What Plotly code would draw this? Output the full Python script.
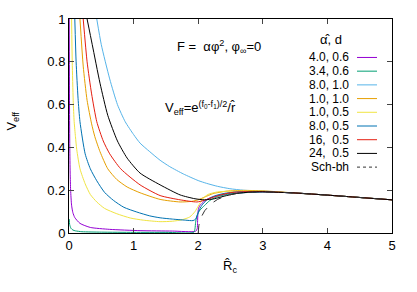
import plotly.graph_objects as go

# ---- data ----
labels = ["4.0, 0.6", "3.4, 0.6", "8.0, 1.0", "1.0, 1.0", "1.0, 0.5",
          "8.0, 0.5", "16,\u00a0 0.5", "24,\u00a0 0.5", "Sch-bh"]
colors = ["#9400d3", "#009e73", "#56b4e9", "#e69f00", "#f0e442",
          "#0072b2", "#e51e10", "#000000", "#333333"]

tail_x = [3.5, 4.0, 4.5, 5.0]
tail_y = [0.187, 0.177, 0.166, 0.155]

purple_x = [0.004, 0.008, 0.012, 0.018, 0.025, 0.04, 0.06, 0.09, 0.17, 0.33, 0.63, 1.1, 1.6, 1.96,
            1.985, 1.99, 1.995, 2.005, 2.03, 2.08, 2.15, 2.3, 2.5, 2.8, 3.0]
purple_y = [1.0, 0.6, 0.4, 0.28, 0.2, 0.13, 0.095, 0.072, 0.045, 0.026, 0.017, 0.011, 0.009, 0.008,
            0.02, 0.05, 0.09, 0.115, 0.13, 0.145, 0.16, 0.175, 0.185, 0.19, 0.1925]

green_x = [0.003, 0.01, 0.03, 0.06, 0.1, 0.2, 0.5, 1.0, 1.5, 1.93, 1.95, 1.96, 1.975, 2.0, 2.03,
           2.1, 2.18, 2.3, 2.5, 2.8, 3.0]
green_y = [0.065, 0.04, 0.022, 0.014, 0.01, 0.006, 0.004, 0.003, 0.003, 0.003, 0.02, 0.05, 0.075,
           0.095, 0.108, 0.129, 0.152, 0.17, 0.183, 0.19, 0.1925]

lblue_x = [0.43, 0.5, 0.63, 0.75, 0.87, 1.0, 1.1, 1.25, 1.41, 1.56, 1.77, 2.0, 2.13, 2.3, 2.49,
           2.7, 3.0]
lblue_y = [1.0, 0.88, 0.72, 0.6, 0.52, 0.46, 0.42, 0.38, 0.34, 0.31, 0.276, 0.245, 0.232, 0.218,
           0.207, 0.2, 0.196]

orange_x = [0.17, 0.22, 0.28, 0.35, 0.40, 0.48, 0.6, 0.74, 0.9, 1.1, 1.41, 1.72, 1.9, 2.0, 2.1,
            2.23, 2.45, 2.7, 3.0]
orange_y = [1.0, 0.78, 0.62, 0.51, 0.45, 0.38, 0.3, 0.25, 0.215, 0.188, 0.157, 0.145, 0.148, 0.155,
            0.168, 0.184, 0.196, 0.199, 0.197]

yellow_x = [0.04, 0.05, 0.065, 0.08, 0.1, 0.12, 0.17, 0.25, 0.33, 0.43, 0.55, 0.74, 0.95, 1.15,
            1.41, 1.6, 1.75, 1.87, 1.95, 2.0, 2.07, 2.15, 2.3, 2.6, 3.0]
yellow_y = [1.0, 0.8, 0.62, 0.52, 0.45, 0.39, 0.3, 0.23, 0.18, 0.145, 0.115, 0.09, 0.07, 0.06,
            0.053, 0.055, 0.062, 0.075, 0.1, 0.125, 0.16, 0.18, 0.192, 0.196, 0.195]

blue_x = [0.09, 0.11, 0.14, 0.17, 0.25, 0.33, 0.43, 0.55, 0.69, 0.85, 1.05, 1.25, 1.41, 1.6, 1.8,
          1.92, 1.96, 1.99, 2.02, 2.07, 2.15, 2.25, 2.4, 2.6, 3.0]
blue_y = [1.0, 0.8, 0.63, 0.52, 0.37, 0.3, 0.244, 0.19, 0.152, 0.12, 0.098, 0.08, 0.071, 0.065,
          0.06, 0.058, 0.065, 0.085, 0.11, 0.135, 0.158, 0.173, 0.185, 0.192, 0.1925]

red_x = [0.22, 0.28, 0.35, 0.43, 0.53, 0.63, 0.8, 1.1, 1.41, 1.72, 1.98, 2.1, 2.23, 2.4, 2.54,
         2.8, 3.0]
red_y = [1.0, 0.8, 0.65, 0.52, 0.43, 0.37, 0.3, 0.225, 0.175, 0.155, 0.145, 0.153, 0.167, 0.182,
         0.19, 0.194, 0.1935]

black_x = [0.28, 0.36, 0.48, 0.6, 0.75, 0.9, 1.1, 1.41, 1.72, 1.95, 2.1, 2.25, 2.4, 2.6, 2.8, 3.0]
black_y = [1.0, 0.88, 0.70, 0.55, 0.43, 0.35, 0.28, 0.225, 0.178, 0.16, 0.155, 0.16, 0.172, 0.185,
           0.191, 0.1925]

sch_x = [2.0, 2.01, 2.03, 2.05, 2.1, 2.15, 2.2, 2.3, 2.4, 2.5, 2.6, 2.75, 3.0, 3.25, 3.5, 3.75,
         4.0, 4.5, 5.0]
sch_y = [0.0, 0.035, 0.060, 0.076, 0.104, 0.123, 0.137, 0.157, 0.170, 0.179, 0.185, 0.190, 0.1925,
         0.191, 0.187, 0.182, 0.177, 0.166, 0.155]

x_ticks = [0, 1, 2, 3, 4, 5]
y_ticks = [0, 0.2, 0.4, 0.6, 0.8, 1]
y_tick_text = ["0", "0.2", "0.4", "0.6", "0.8", "1"]

series = [
    (purple_x, purple_y),
    (green_x, green_y),
    (lblue_x, lblue_y),
    (orange_x, orange_y),
    (yellow_x, yellow_y),
    (blue_x, blue_y),
    (red_x, red_y),
    (black_x, black_y),
]

FONT = "Liberation Sans, Arial, sans-serif"
FS = 13
LFS = 12
fig = go.Figure()
for i, (xs, ys) in enumerate(series):
    fig.add_trace(go.Scatter(
        x=list(xs) + tail_x, y=list(ys) + tail_y, mode="lines",
        line=dict(color=colors[i], width=1, shape="spline", smoothing=0.6),
        name=labels[i], showlegend=False, cliponaxis=True))
fig.add_trace(go.Scatter(x=sch_x, y=sch_y, mode="lines",
                         line=dict(color=colors[8], width=1, dash="dash"),
                         name=labels[8], showlegend=False))

W, H = 417, 292
L, R, T, B = 69, 25, 16, 59
pw, ph = W - L - R, H - T - B


def px(x):
    return (x - L) / pw


def py(y):
    return (H - B - y) / ph


def ann(x, y, text, xanchor="center", size=FS, **kw):
    d = dict(x=px(x), y=py(y), xref="paper", yref="paper", text=text,
             showarrow=False, xanchor=xanchor, yanchor="middle", borderpad=0,
             font=dict(family=FONT, size=size, color="black"))
    d.update(kw)
    return d


annotations = []
shapes = []
# manual legend
annotations.append(ann(331, 37, "\u03b1\u0302, d"))
for i, lab in enumerate(labels):
    yy = 55 + i * 13.9
    annotations.append(ann(350, yy, lab, xanchor="right", size=LFS))
    shapes.append(dict(type="line", xref="paper", yref="paper",
                       x0=px(357), x1=px(377), y0=py(yy), y1=py(yy),
                       line=dict(color=colors[i], width=1,
                                 dash="dot" if i == 8 else "solid")))

annotations.append(ann(176, 44, "F =  \u03b1\u03c6<sup>2</sup>, \u03c6<sub>\u221e</sub>=0",
                       xanchor="left"))
annotations.append(ann(164, 106,
                       "V<sub>eff</sub>=e<sup>(f<sub>0</sub>-f<sub>1</sub>)/2</sup>/r\u0302",
                       xanchor="left"))
annotations.append(ann(13, 120, "V<sub>eff</sub>", textangle=-90))
annotations.append(ann(230, 267, "R\u0302<sub>c</sub>"))

fig.update_layout(
    width=W, height=H, margin=dict(l=L, r=R, t=T, b=B),
    paper_bgcolor="white", plot_bgcolor="white",
    font=dict(family=FONT, size=FS, color="black"),
    annotations=annotations, shapes=shapes, showlegend=False,
    xaxis=dict(range=[0, 5], tickvals=x_ticks, ticks="inside", ticklen=5,
               showline=True, linecolor="black", linewidth=1, mirror="ticks",
               showgrid=False, zeroline=False, tickfont=dict(size=FS)),
    yaxis=dict(range=[0, 1], tickvals=y_ticks, ticktext=y_tick_text, ticks="inside",
               ticklen=5, showline=True, linecolor="black", linewidth=1, mirror="ticks",
               showgrid=False, zeroline=False, tickfont=dict(size=FS)),
)
fig.write_html("out.html", config={"displayModeBar": False},
               post_script="document.body.style.margin='0';document.body.style.padding='0';")
